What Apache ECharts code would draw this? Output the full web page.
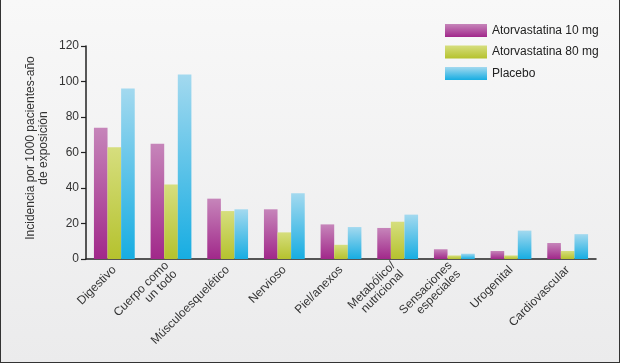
<!DOCTYPE html>
<html><head><meta charset="utf-8">
<script src="https://cdn.jsdelivr.net/npm/echarts@6/dist/echarts.min.js"></script>
<style>html,body{margin:0;padding:0;}#c{width:620px;height:363px;}</style>
</head><body><div id="c"></div>
<script>
const categories = ['Digestivo','Cuerpo como\nun todo','Músculoesquelético','Nervioso','Piel/anexos','Metabólico/\nnutricional','Sensaciones\nespeciales','Urogenital','Cardiovascular'];
const atorva10 = [74, 65, 34, 28, 19.5, 17.5, 5.5, 4.5, 9];
const atorva80 = [63, 42, 27, 15, 8, 21, 2, 2, 4.5];
const placebo = [96, 104, 28, 37, 18, 25, 3, 16, 14];
const yTicks = [0, 20, 40, 60, 80, 100, 120];
const seriesNames = ['Atorvastatina 10 mg','Atorvastatina 80 mg','Placebo'];

const font = 'Liberation Sans, Arial, Helvetica, sans-serif';
function grad(top, bottom){
  return new echarts.graphic.LinearGradient(0,0,0,1,[{offset:0,color:top},{offset:1,color:bottom}]);
}
const chart = echarts.init(document.getElementById('c'), null, {renderer:'canvas'});
chart.setOption({
  animation:false,
  backgroundColor: grad('#f8f8f8','#ebebec'),
  textStyle:{fontFamily:font},
  legend:{
    orient:'vertical', left:445, top:24, padding:0, icon:'rect', itemWidth:42, itemHeight:13, itemGap:8.5,
    textStyle:{fontSize:12, color:'#222', fontFamily:font},
    data: seriesNames
  },
  grid:{left:86, right:24, top:46, bottom:104},
  xAxis:{
    type:'category', data:categories,
    axisLine:{lineStyle:{color:'#222', width:1.5}},
    axisTick:{show:false},
    axisLabel:{interval:0, rotate:45, fontSize:12, color:'#333', fontFamily:font, lineHeight:12, margin:9}
  },
  yAxis:{
    type:'value', min:yTicks[0], max:yTicks[yTicks.length-1], interval:20,
    axisLine:{show:true, lineStyle:{color:'#222', width:1.5}},
    axisTick:{show:true, length:5, lineStyle:{color:'#222', width:1.2}},
    axisLabel:{fontSize:12, color:'#333', fontFamily:font, margin:7},
    splitLine:{show:false}
  },
  graphic:[
    {type:'text', x:37, y:148, rotation:Math.PI/2,
     style:{text:'Incidencia por 1000 pacientes-año\nde exposición', fontSize:12, fontFamily:font, fill:'#333', align:'center', verticalAlign:'middle', lineHeight:13}},
    {type:'line', shape:{x1:0.5,y1:0,x2:0.5,y2:363}, style:{stroke:'#333', lineWidth:1}},
    {type:'line', shape:{x1:619.5,y1:0,x2:619.5,y2:363}, style:{stroke:'#333', lineWidth:1}},
    {type:'line', shape:{x1:0,y1:362.5,x2:620,y2:362.5}, style:{stroke:'#333', lineWidth:1}}
  ],
  series:[
    {name:seriesNames[0], type:'bar', data:atorva10, barGap:'0%', barCategoryGap:'28%',
     itemStyle:{color:grad('#c685ba','#a1288a')}},
    {name:seriesNames[1], type:'bar', data:atorva80, barGap:'0%', barCategoryGap:'28%',
     itemStyle:{color:grad('#d6de7e','#b5c22e')}},
    {name:seriesNames[2], type:'bar', data:placebo, barGap:'0%', barCategoryGap:'28%',
     itemStyle:{color:grad('#a3d9ef','#17ade2')}}
  ]
});
</script></body></html>
